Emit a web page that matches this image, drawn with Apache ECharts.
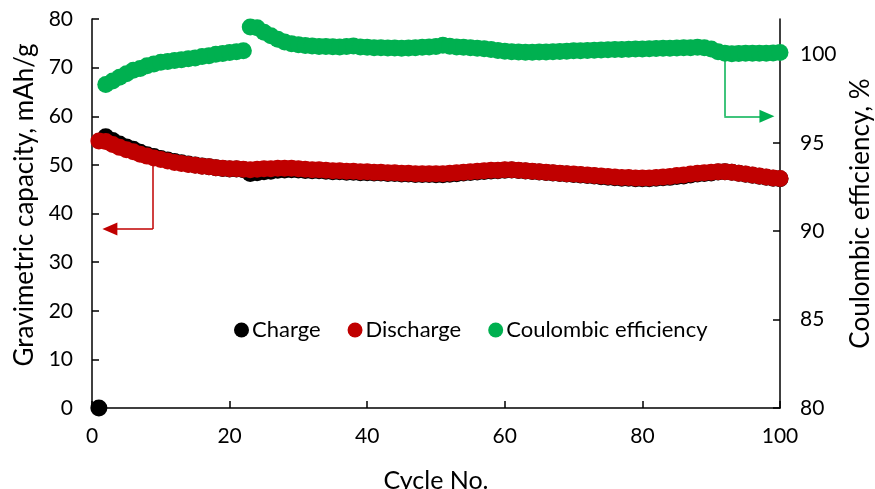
<!DOCTYPE html>
<html>
<head>
<meta charset="utf-8">
<script src="https://cdn.jsdelivr.net/npm/echarts@6/dist/echarts.min.js"></script>
<style>
html,body{margin:0;padding:0;background:#fff;}
#chart{width:875px;height:489px;}
</style>
</head>
<body>
<div id="chart"></div>
<script>
const cycles = [1,2,3,4,5,6,7,8,9,10,11,12,13,14,15,16,17,18,19,20,21,22,23,24,25,26,27,28,29,30,31,32,33,34,35,36,37,38,39,40,41,42,43,44,45,46,47,48,49,50,51,52,53,54,55,56,57,58,59,60,61,62,63,64,65,66,67,68,69,70,71,72,73,74,75,76,77,78,79,80,81,82,83,84,85,86,87,88,89,90,91,92,93,94,95,96,97,98,99,100];

const charge = [0,55.8,55.0,54.3,53.7,53.2,52.6,52.1,51.7,51.3,51.0,50.7,50.45,50.2,50.0,49.76,49.64,49.4,49.28,49.15,49.13,49.0,48.25,48.37,48.6,48.7,48.9,48.96,49.0,48.93,48.85,48.77,48.78,48.68,48.59,48.6,48.48,48.47,48.4,48.4,48.32,48.32,48.23,48.23,48.13,48.13,48.02,48.01,48.0,47.98,47.95,48.08,48.2,48.31,48.42,48.53,48.64,48.76,48.79,48.91,48.93,48.84,48.74,48.64,48.54,48.43,48.33,48.22,48.11,48.0,47.9,47.8,47.69,47.58,47.48,47.37,47.27,47.26,47.16,47.15,47.15,47.24,47.34,47.43,47.63,47.72,47.92,48.11,48.22,48.35,48.53,48.57,48.48,48.28,48.07,47.87,47.67,47.47,47.26,47.15];

const discharge = [54.9,54.8,54.2,53.6,53.1,52.7,52.2,51.8,51.4,51.1,50.8,50.5,50.3,50.1,49.9,49.7,49.6,49.4,49.3,49.2,49.2,49.1,49.0,49.1,49.2,49.2,49.3,49.3,49.3,49.2,49.1,49.0,49.0,48.9,48.8,48.8,48.7,48.7,48.6,48.6,48.5,48.5,48.4,48.4,48.3,48.3,48.2,48.2,48.2,48.2,48.2,48.3,48.4,48.5,48.6,48.7,48.8,48.9,48.9,49.0,49.0,48.9,48.8,48.7,48.6,48.5,48.4,48.3,48.2,48.1,48.0,47.9,47.8,47.7,47.6,47.5,47.4,47.4,47.3,47.3,47.3,47.4,47.5,47.6,47.8,47.9,48.1,48.3,48.4,48.5,48.6,48.6,48.5,48.3,48.1,47.9,47.7,47.5,47.3,47.2];

const efficiency = [null,98.3,98.5,98.7,98.9,99.1,99.2,99.35,99.45,99.55,99.6,99.65,99.7,99.75,99.8,99.88,99.92,100.0,100.05,100.1,100.15,100.2,101.55,101.5,101.25,101.05,100.85,100.7,100.6,100.55,100.5,100.47,100.45,100.44,100.43,100.42,100.45,100.48,100.42,100.4,100.38,100.37,100.36,100.36,100.35,100.36,100.38,100.4,100.42,100.45,100.52,100.46,100.42,100.4,100.38,100.35,100.32,100.28,100.22,100.18,100.15,100.13,100.12,100.12,100.13,100.14,100.15,100.16,100.18,100.2,100.21,100.22,100.23,100.25,100.26,100.27,100.28,100.29,100.3,100.31,100.32,100.33,100.34,100.35,100.36,100.37,100.38,100.4,100.38,100.3,100.15,100.06,100.04,100.05,100.06,100.07,100.07,100.07,100.08,100.1];

const xTicks = [0,20,40,60,80,100];
const leftTicks = [0,10,20,30,40,50,60,70,80];
const rightTicks = [80,85,90,95,100];

const FONT = 'Lato';
const pairs = (ys) => cycles.map((c, i) => [c, ys[i]]).filter(p => p[1] !== null);

const chart = echarts.init(document.getElementById('chart'), null, {renderer: 'canvas'});
const axisLineStyle = {color: '#000', width: 1.5};

chart.setOption({
  animation: false,
  backgroundColor: '#fff',
  textStyle: {fontFamily: FONT, color: '#000'},
  grid: {left: 92, right: 95, top: 19, bottom: 81, containLabel: false, outerBoundsMode: 'none'},
  legend: {
    left: 229, top: 314,
    itemWidth: 15, itemHeight: 15, itemGap: 27,
    icon: 'circle',
    textStyle: {fontFamily: FONT, fontSize: 22, color: '#000', padding: [0, 0, 0, -2]},
    data: ['Charge', 'Discharge', 'Coulombic efficiency']
  },
  xAxis: {
    type: 'value', min: 0, max: 100, interval: 20,
    name: 'Cycle No.', nameLocation: 'middle', nameGap: 60,
    nameTextStyle: {fontFamily: FONT, fontSize: 25, color: '#000'},
    axisLine: {show: true, onZero: false, lineStyle: axisLineStyle},
    axisTick: {show: true, inside: true, length: 7, lineStyle: axisLineStyle, customValues: xTicks},
    axisLabel: {fontFamily: FONT, fontSize: 21, color: '#000', margin: 18, customValues: xTicks},
    splitLine: {show: false}
  },
  yAxis: [
    {
      type: 'value', min: 0, max: 80, interval: 10, position: 'left',
      name: 'Gravimetric capacity, mAh/g', nameLocation: 'middle', nameGap: 52,
      nameTextStyle: {fontFamily: FONT, fontSize: 26, color: '#000', padding: [0, 0, 0, 17]},
      axisLine: {show: true, onZero: false, lineStyle: axisLineStyle},
      axisTick: {show: true, inside: true, length: 7, lineStyle: axisLineStyle, customValues: leftTicks},
      axisLabel: {fontFamily: FONT, fontSize: 21, color: '#000', margin: 19, customValues: leftTicks},
      splitLine: {show: false}
    },
    {
      type: 'value', min: 80, max: 102, interval: 5, position: 'right',
      name: 'Coulombic efficiency, %', nameLocation: 'middle', nameGap: 68,
      nameTextStyle: {fontFamily: FONT, fontSize: 26, color: '#000'},
      axisLine: {show: true, onZero: false, lineStyle: axisLineStyle},
      axisTick: {show: true, inside: true, length: 7, lineStyle: axisLineStyle, customValues: rightTicks},
      axisLabel: {fontFamily: FONT, fontSize: 21, color: '#000', margin: 20, customValues: rightTicks},
      splitLine: {show: false}
    }
  ],
  series: [
    {
      name: 'Charge', type: 'scatter', yAxisIndex: 0, clip: false,
      symbol: 'circle', symbolSize: 17,
      itemStyle: {color: '#000000', opacity: 1},
      data: pairs(charge)
    },
    {
      name: 'Discharge', type: 'scatter', yAxisIndex: 0, clip: false,
      symbol: 'circle', symbolSize: 17,
      itemStyle: {color: '#C00000', opacity: 1},
      data: pairs(discharge),
      markLine: {
        silent: true, animation: false, z: 1,
        label: {show: false},
        lineStyle: {color: '#C00000', width: 1.5, type: 'solid', opacity: 1},
        symbolSize: [13, 15],
        data: [
          [{coord: [8.85, 50.5], symbol: 'none'}, {coord: [8.85, 36.8], symbol: 'none'}],
          [{coord: [8.85, 36.8], symbol: 'none'}, {coord: [2.6, 36.8], symbol: 'triangle'}]
        ]
      }
    },
    {
      name: 'Coulombic efficiency', type: 'scatter', yAxisIndex: 1, clip: false,
      symbol: 'circle', symbolSize: 17,
      itemStyle: {color: '#00B050', opacity: 1},
      data: pairs(efficiency),
      markLine: {
        silent: true, animation: false, z: 1,
        label: {show: false},
        lineStyle: {color: '#00B050', width: 1.5, type: 'solid', opacity: 1},
        symbolSize: [13, 15],
        data: [
          [{coord: [91.9, 99.8], symbol: 'none'}, {coord: [91.9, 96.5], symbol: 'none'}],
          [{coord: [91.9, 96.5], symbol: 'none'}, {coord: [98.1, 96.5], symbol: 'triangle'}]
        ]
      }
    }
  ]
});
</script>
</body>
</html>
